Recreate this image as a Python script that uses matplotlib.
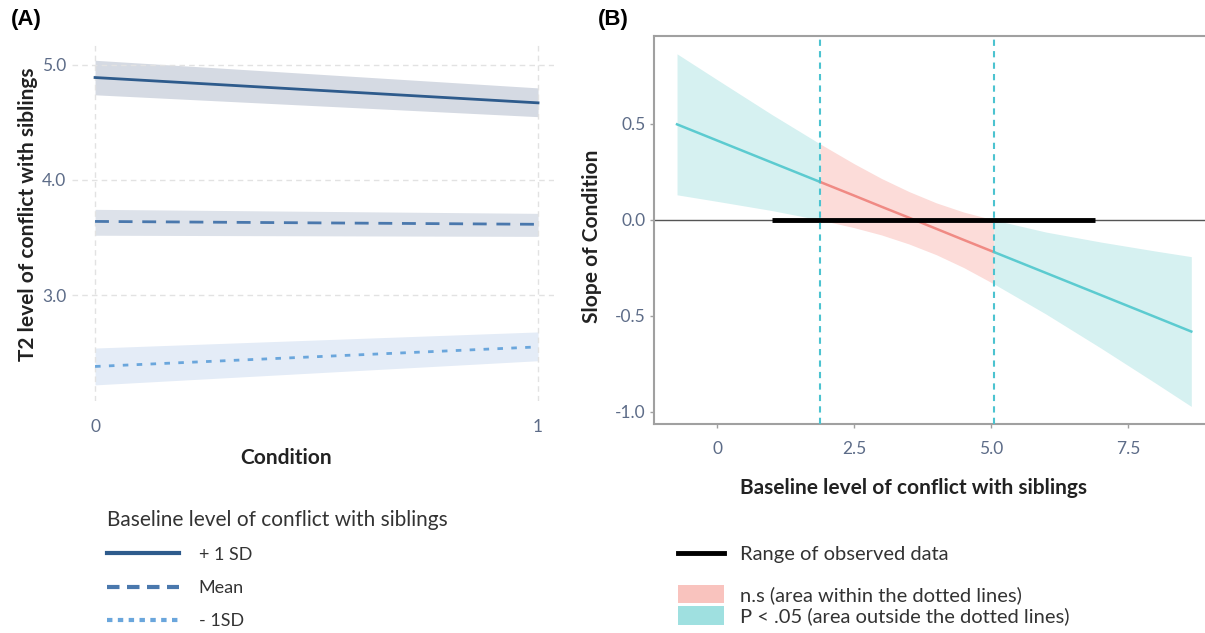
import matplotlib
matplotlib.use("Agg")
import matplotlib.pyplot as plt
import numpy as np
from matplotlib.lines import Line2D
from matplotlib.patches import Patch

# ---------------- data ----------------
conditions = [0, 1]
plus_sd = [4.89, 4.67]
plus_sd_lo = [4.74, 4.55]
plus_sd_hi = [5.04, 4.80]
mean_line = [3.64, 3.615]
mean_lo = [3.52, 3.51]
mean_hi = [3.745, 3.71]
minus_sd = [2.38, 2.55]
minus_sd_lo = [2.22, 2.43]
minus_sd_hi = [2.54, 2.68]
a_yticks = [3.0, 4.0, 5.0]
a_xticks = [0, 1]

baseline = [-0.73, 0, 1, 1.88, 2.5, 3, 3.5, 4, 4.5, 5.05, 6, 7, 8, 8.65]
slope = [0.498, 0.414, 0.299, 0.198, 0.127, 0.069, 0.012, -0.046, -0.104,
         -0.167, -0.276, -0.391, -0.506, -0.581]
slope_hi = [0.865, 0.731, 0.549, 0.396, 0.293, 0.216, 0.148, 0.089, 0.041,
            0.0, -0.063, -0.115, -0.162, -0.191]
slope_lo = [0.131, 0.097, 0.049, 0.0, -0.040, -0.078, -0.125, -0.181, -0.248,
            -0.333, -0.490, -0.667, -0.850, -0.971]
jn_points = [1.88, 5.05]
observed_range = [1.0, 6.9]
b_xticks = [0, 2.5, 5.0, 7.5]
b_xticklabels = ["0", "2.5", "5.0", "7.5"]
b_yticks = [-1.0, -0.5, 0.0, 0.5]

# ---------------- style ----------------
FONT = ["Lato", "DejaVu Sans"]
plt.rcParams["font.family"] = FONT
TICKC = "#5d6c88"
LABC = "#222222"
TXTC = "#333333"

fig = plt.figure(figsize=(12.05, 6.33), dpi=100)

# ================= Panel A =================
axA = fig.add_axes([72 / 1205, 1 - 401 / 633, (554 - 72) / 1205, (401 - 43) / 633])
axA.set_xlim(-0.052, 1.036)
axA.set_ylim(2.08, 5.19)
for s in axA.spines.values():
    s.set_visible(False)

c_plus, c_mean, c_minus = "#2e5b8c", "#4a78ad", "#6aa6dc"
axA.fill_between(conditions, plus_sd_lo, plus_sd_hi, color="#d5dae3", lw=0, zorder=1)
axA.fill_between(conditions, mean_lo, mean_hi, color="#dde2ea", lw=0, zorder=1)
axA.fill_between(conditions, minus_sd_lo, minus_sd_hi, color="#e4ecf7", lw=0, zorder=1)
axA.plot(conditions, plus_sd, color=c_plus, lw=2.0, zorder=3)
axA.plot(conditions, mean_line, color=c_mean, lw=2.0, dashes=(5, 3.5), zorder=3)
axA.plot(conditions, minus_sd, color=c_minus, lw=2.0, dashes=(2, 3), zorder=3)

axA.set_xticks(a_xticks)
axA.set_xticklabels([str(v) for v in a_xticks])
axA.set_yticks(a_yticks)
axA.set_yticklabels([f"{v:.1f}" for v in a_yticks])
axA.grid(True, color="#e2e2e2", ls=(0, (4, 3)), lw=1.0, zorder=0)
axA.tick_params(axis="both", length=0, colors=TICKC, labelsize=12.5)
axA.tick_params(axis="x", pad=13)
axA.tick_params(axis="y", pad=4)
axA.set_xlabel("Condition", fontsize=15, fontweight="bold", color=LABC)
axA.xaxis.set_label_coords((286 - 72) / 482, -(448 - 401) / 358)
axA.set_ylabel("T2 level of conflict with siblings", fontsize=15, fontweight="bold",
               color=LABC)
axA.yaxis.set_label_coords(-(72 - 38) / 482, (401 - 214) / 358)

fig.text(11 / 1205, 1 - 20 / 633, "(A)", fontsize=16, fontweight="bold",
         family=["Liberation Sans", "DejaVu Sans"], va="center", ha="left")

# legend A
legA_handles = [Line2D([], [], color=c_plus, lw=3),
                Line2D([], [], color=c_mean, lw=3, dashes=(3, 1.8)),
                Line2D([], [], color=c_minus, lw=3, dashes=(1.3, 1.3))]
legA = fig.legend(legA_handles, ["+ 1 SD", "Mean", "- 1SD"],
                  title="Baseline level of conflict with siblings",
                  loc="upper left", bbox_to_anchor=(94 / 1205, 1 - 497 / 633),
                  frameon=False, fontsize=13, title_fontsize=15,
                  handlelength=4.0, handletextpad=1.1, labelspacing=0.95,
                  alignment="left", borderpad=0.2)
legA.get_title().set_color(TXTC)
for t in legA.get_texts():
    t.set_color(TXTC)

# ================= Panel B =================
axB = fig.add_axes([654 / 1205, 1 - 424 / 633, (1205 - 654) / 1205, (424 - 36) / 633])
axB.set_xlim(-1.15, 8.9)
axB.set_ylim(-1.0625, 0.958)

teal_band, teal_line = "#d6f1f1", "#5ccbd0"
pink_band, pink_line = "#fcdcd9", "#f08a84"

bx = np.array(baseline)
by = np.array(slope)
bhi = np.array(slope_hi)
blo = np.array(slope_lo)
left = bx <= jn_points[0]
mid = (bx >= jn_points[0]) & (bx <= jn_points[1])
right = bx >= jn_points[1]

axB.fill_between(bx[left], blo[left], bhi[left], color=teal_band, lw=0, zorder=1)
axB.fill_between(bx[mid], blo[mid], bhi[mid], color=pink_band, lw=0, zorder=1)
axB.fill_between(bx[right], blo[right], bhi[right], color=teal_band, lw=0, zorder=1)
axB.plot(bx[left], by[left], color=teal_line, lw=1.8, zorder=3)
axB.plot(bx[mid], by[mid], color=pink_line, lw=1.8, zorder=3)
axB.plot(bx[right], by[right], color=teal_line, lw=1.8, zorder=3)

axB.axhline(0, color="#555555", lw=1.0, zorder=2)
axB.plot(observed_range, [0, 0], color="black", lw=3.5, solid_capstyle="butt", zorder=4)
for jx in jn_points:
    axB.axvline(jx, color="#4cc3d0", lw=1.5, dashes=(3, 2.5), zorder=5)

axB.spines["right"].set_visible(False)
for k in ["top", "left", "bottom"]:
    axB.spines[k].set_color("#a0a0a0")
    axB.spines[k].set_linewidth(1.5)
axB.set_xticks(b_xticks)
axB.set_xticklabels(b_xticklabels)
axB.set_yticks(b_yticks)
axB.set_yticklabels([f"{v:.1f}" for v in b_yticks])
axB.tick_params(axis="both", length=3, width=1, color="#a0a0a0", colors=TICKC, labelsize=12.5)
axB.tick_params(axis="both", color="#a0a0a0")
axB.tick_params(axis="x", pad=9)
axB.tick_params(axis="y", pad=3)
axB.set_xlabel("Baseline level of conflict with siblings", fontsize=15, fontweight="bold",
               color=LABC)
axB.xaxis.set_label_coords((913 - 654) / 551, -(478 - 424) / 388)
axB.set_ylabel("Slope of Condition", fontsize=15, fontweight="bold", color=LABC)
axB.yaxis.set_label_coords(-(654 - 602) / 551, (424 - 236) / 388)

fig.text(598 / 1205, 1 - 20 / 633, "(B)", fontsize=16, fontweight="bold",
         family=["Liberation Sans", "DejaVu Sans"], va="center", ha="left")

legB1 = fig.legend([Line2D([], [], color="black", lw=3.5)], ["Range of observed data"],
                   loc="center left", bbox_to_anchor=(664 / 1205, 1 - 554 / 633),
                   frameon=False, fontsize=14.5, handlelength=2.3, handletextpad=0.75,
                   borderpad=0.2)
legB2 = fig.legend([Patch(facecolor="#f9c3be", edgecolor="none"),
                    Patch(facecolor="#9fe0e0", edgecolor="none")],
                   ["n.s (area within the dotted lines)",
                    "P < .05 (area outside the dotted lines)"],
                   loc="center left", bbox_to_anchor=(664 / 1205, 1 - 605 / 633),
                   frameon=False, fontsize=14.5, handlelength=2.3, handleheight=1.05,
                   handletextpad=0.75, labelspacing=0.12, borderpad=0.2)
for lg in (legB1, legB2):
    for t in lg.get_texts():
        t.set_color(TXTC)

fig.savefig("out.png", dpi=100, facecolor="white")
